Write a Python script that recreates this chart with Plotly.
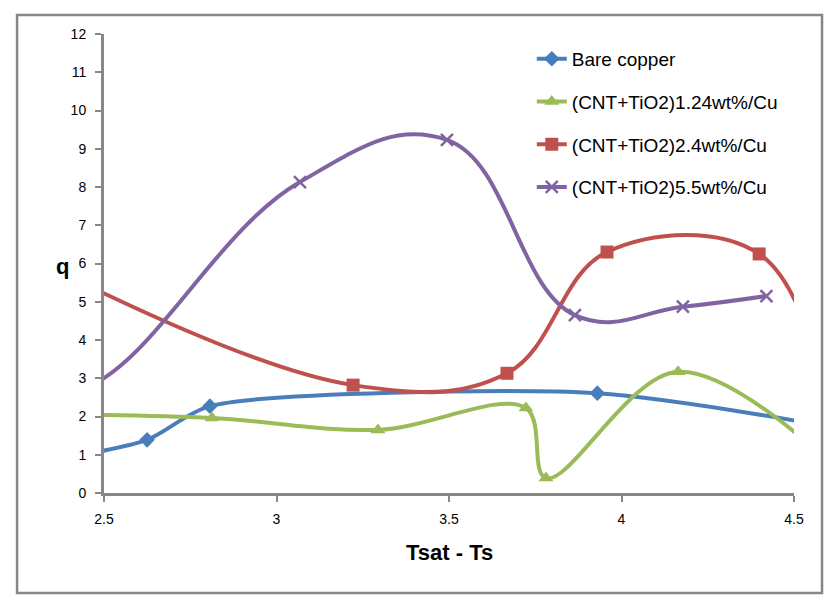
import plotly.graph_objects as go

# Data (first/last points of some series lie outside the visible axis range and are clipped)
bare_x = [2.35, 2.625, 2.807, 3.93, 4.75]
bare_y = [0.85, 1.39, 2.27, 2.61, 1.5]

g124_x = [2.3, 2.813, 3.294, 3.723, 3.781, 4.164, 4.7]
g124_y = [2.06, 1.96, 1.65, 2.22, 0.39, 3.17, 0.0]

r24_x = [2.3, 3.222, 3.668, 3.958, 4.399, 4.6]
r24_y = [6.1, 2.82, 3.13, 6.3, 6.25, 2.2]

p55_x = [2.2, 2.45, 3.068, 3.494, 3.865, 4.178, 4.42]
p55_y = [2.6, 2.75, 8.13, 9.23, 4.65, 4.87, 5.15]

names = ["Bare copper", "(CNT+TiO2)1.24wt%/Cu", "(CNT+TiO2)2.4wt%/Cu", "(CNT+TiO2)5.5wt%/Cu"]
x_ticks = [2.5, 3, 3.5, 4, 4.5]
x_tick_text = ["2.5", "3", "3.5", "4", "4.5"]
y_ticks = list(range(0, 13))

series = [
    (bare_x, bare_y, names[0], "#4A7EBB", "diamond", 12, 0.7),
    (g124_x, g124_y, names[1], "#9BBB59", "triangle-up", 13, 1.0),
    (r24_x, r24_y, names[2], "#C0504D", "square", 13, 1.1),
    (p55_x, p55_y, names[3], "#8064A2", "x-thin", 12, 1.2),
]

fig = go.Figure()
for i, (xs, ys, nm, col, sym, sz, sm) in enumerate(series):
    marker = dict(symbol=sym, size=sz, color=col)
    if sym == "x-thin":
        marker["line"] = dict(color=col, width=2.5)
    fig.add_trace(go.Scatter(
        x=xs, y=ys, name=nm, mode="lines+markers",
        line=dict(color=col, width=4, shape="spline", smoothing=sm),
        marker=marker, legendgroup=f"g{i}", cliponaxis=True,
    ))

axis_font = dict(family="Liberation Sans, Arial, sans-serif", size=14, color="#000000")

# page body has an 8px margin, so the figure is sized/offset to compensate
fig.update_layout(
    width=828, height=599,
    margin=dict(l=96, r=42, t=26, b=114),
    paper_bgcolor="white", plot_bgcolor="white",
    showlegend=True,
    legend=dict(
        x=0.62, y=0.987, xanchor="left", yanchor="top",
        font=dict(family="Liberation Sans, Arial, sans-serif", size=19, color="#000000"),
        bgcolor="rgba(0,0,0,0)", traceorder="grouped", tracegroupgap=15,
        itemwidth=30,
    ),
    xaxis=dict(
        range=[2.5, 4.5], tickvals=x_ticks, ticktext=x_tick_text,
        showgrid=False, zeroline=False, showline=True, linecolor="#878787", linewidth=3,
        ticks="outside", ticklen=6, tickwidth=2, tickcolor="#878787",
        tickfont=axis_font, ticklabelstandoff=5,
    ),
    yaxis=dict(
        range=[0, 12], tickvals=y_ticks,
        showgrid=False, zeroline=False, showline=True, linecolor="#878787", linewidth=3,
        ticks="outside", ticklen=6, tickwidth=2, tickcolor="#878787",
        tickfont=axis_font, ticklabelstandoff=6,
    ),
    shapes=[dict(
        type="rect", xref="paper", yref="paper",
        x0=-0.126, x1=1.0406, y0=-0.218, y1=1.0414,
        line=dict(color="#878787", width=2.5), fillcolor="rgba(0,0,0,0)", layer="below",
    )],
    annotations=[
        dict(text="<b>Tsat - Ts</b>", xref="paper", yref="paper", x=(449 - 104) / 690, y=(493 - 552) / 459,
             showarrow=False, xanchor="center", yanchor="middle",
             font=dict(family="Liberation Sans, Arial, sans-serif", size=22, color="#000000")),
        dict(text="<b>q</b>", xref="paper", yref="paper", x=(62 - 104) / 690, y=(493 - 266) / 459,
             showarrow=False, xanchor="center", yanchor="middle",
             font=dict(family="Liberation Sans, Arial, sans-serif", size=22, color="#000000")),
    ],
)

fig.write_html("out.html")
